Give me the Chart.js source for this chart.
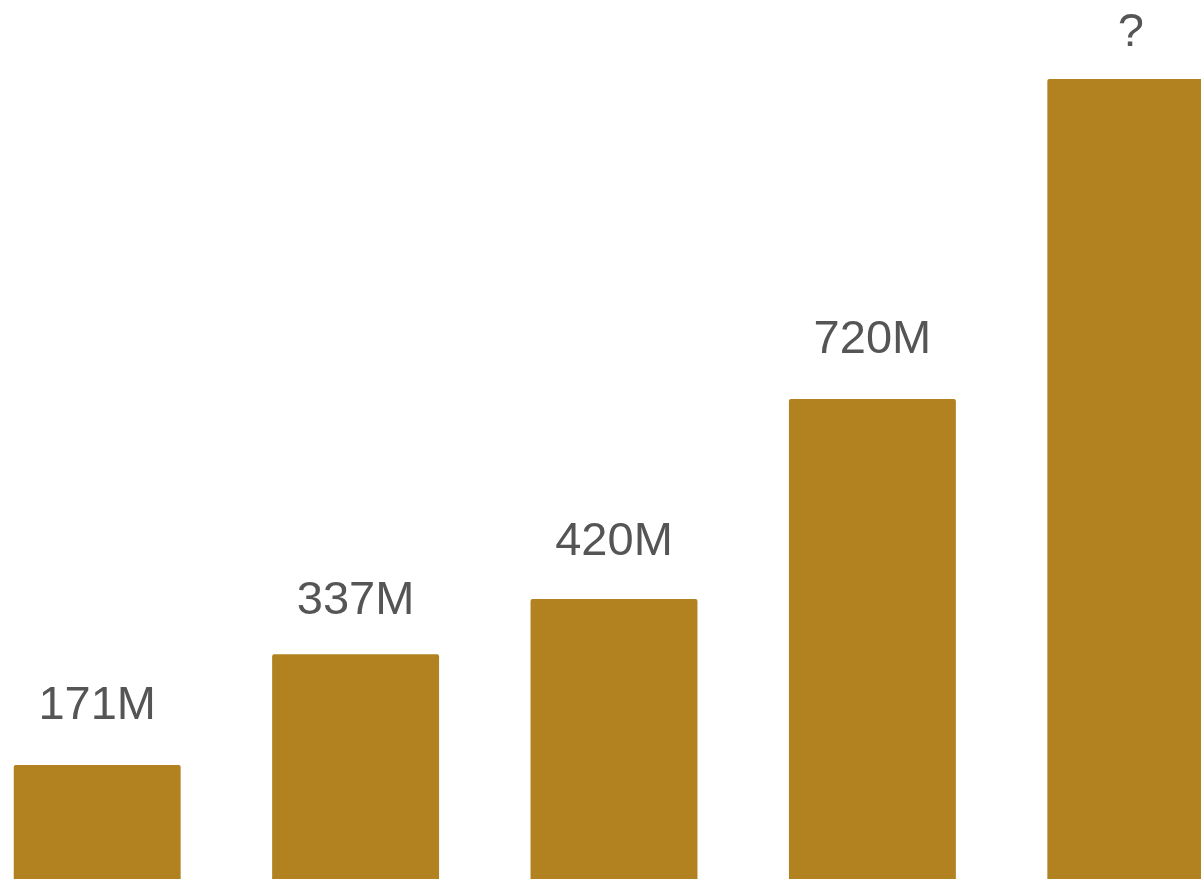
<!DOCTYPE html>
<html>
<head>
<meta charset="utf-8">
<script src="https://cdn.jsdelivr.net/npm/chart.js@4"></script>
<style>
  html, body { margin: 0; padding: 0; background: #fff; overflow: hidden; }
  #wrap { position: absolute; left: -32px; top: 0; width: 1292px; height: 879px; }
</style>
</head>
<body>
<div id="wrap"><canvas id="chart"></canvas></div>
<script>
const categories = ['1', '2', '3', '4', '5'];
const values = [171, 337, 420, 720, 1200];
const valueLabels = ['171M', '337M', '420M', '720M', '?'];

const barColor = '#b1821f';
// gap between label baseline and bar top (labels were hand placed in the original)
const labelGaps = [46, 40, 44, 46, 33];

// text above each bar
const topLabels = {
  id: 'topLabels',
  afterDatasetsDraw(chart) {
    const ctx = chart.ctx;
    const meta = chart.getDatasetMeta(0);
    ctx.save();
    ctx.font = '47px "Liberation Sans", Arial, sans-serif';
    ctx.fillStyle = '#555555';
    ctx.textAlign = 'center';
    ctx.textBaseline = 'alphabetic';
    meta.data.forEach((bar, i) => {
      ctx.fillText(valueLabels[i], bar.x, bar.y - labelGaps[i]);
    });
    ctx.restore();
  }
};

new Chart(document.getElementById('chart'), {
  type: 'bar',
  data: {
    labels: categories,
    datasets: [{
      data: values,
      backgroundColor: barColor,
      borderRadius: 2,
      borderSkipped: 'bottom',
      barPercentage: 0.646,
      categoryPercentage: 1
    }]
  },
  options: {
    responsive: true,
    maintainAspectRatio: false,
    animation: false,
    layout: { padding: 0 },
    plugins: { legend: { display: false }, tooltip: { enabled: false } },
    scales: {
      x: { display: false },
      y: { display: false, min: 0, max: 1318.5 }
    }
  },
  plugins: [topLabels]
});
</script>
</body>
</html>
